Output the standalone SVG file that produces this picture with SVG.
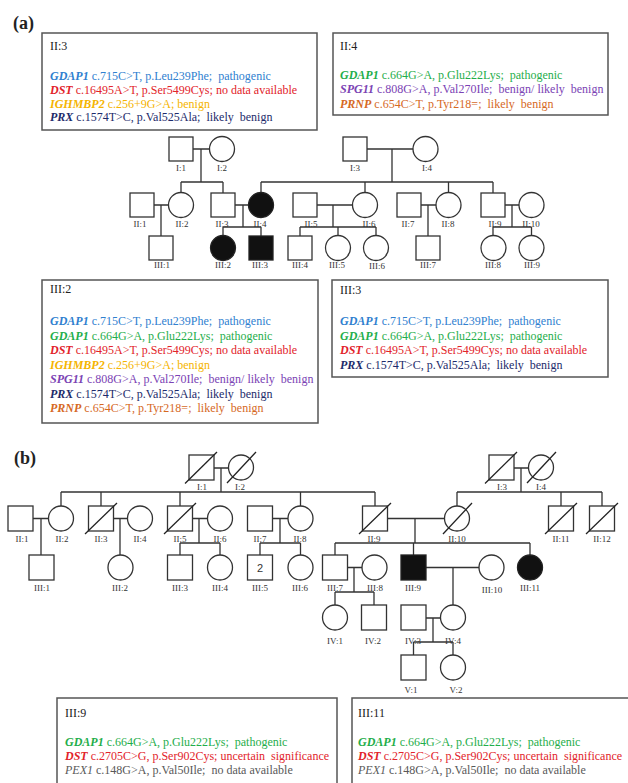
<svg xmlns="http://www.w3.org/2000/svg" width="628" height="783" viewBox="0 0 628 783">
<style>
.s{fill:#fff;stroke:#333;stroke-width:1.3}
.f{fill:#111;stroke:#222;stroke-width:1.3}
.c{fill:none;stroke:#333;stroke-width:1.3}
.sl{stroke:#222;stroke-width:1.3}
.lb{font-family:"Liberation Serif","Times New Roman",serif;font-size:9px;fill:#333;text-anchor:middle}
.bx{fill:#fff;stroke:#555;stroke-width:1.5}
.t{font-family:"Liberation Serif","Times New Roman",serif;font-size:12px;white-space:pre}
.h{font-family:"Liberation Serif","Times New Roman",serif;font-size:12px}
.g{font-weight:bold;font-style:italic}
.pl{font-family:"Liberation Serif","Times New Roman",serif;font-size:18px;font-weight:bold;fill:#222}
.bl{fill:#2f80cf}.gr{fill:#1fae4b}.rd{fill:#e2232a}.yl{fill:#f5b400}.nv{fill:#1d2b6b}.pu{fill:#7b43b4}.or{fill:#d6691f}.gy{fill:#595959}
</style>
<rect width="628" height="783" fill="#fff"/>
<text class="pl" x="13" y="29">(a)</text>
<text class="pl" x="14" y="464">(b)</text>

<!-- ===== (a) connectors ===== -->
<g id="connectors-a">
<path class="c" d="M193 149H209.5 M201 149V182 M181 182H223 M181 182V192.5 M223 182V193"/>
<path class="c" d="M367 149H413 M392 149V182 M261 182H493 M261 182V192.5 M365 182V192.5 M448.5 182V192.5 M493 182V193"/>
<path class="c" d="M154 205H168.5 M161 205V236"/>
<path class="c" d="M235 205H248.5 M243 205V227 M223 227H261 M223 227V235.5 M261 227V236"/>
<path class="c" d="M317 205H352.5 M333 205V227 M300 227H376 M300 227V236 M338 227V235.5 M376 227V235.5"/>
<path class="c" d="M421 205H436 M428 205V236"/>
<path class="c" d="M505 205H519 M512 205V227 M493 227H531.5 M493 227V235.5 M531.5 227V235.5"/>
</g>

<!-- ===== (a) nodes ===== -->
<g id="a-I1"><rect class="s" x="169" y="137" width="24" height="24"/><text class="lb" x="181" y="171">I:1</text></g>
<g id="a-I2"><circle class="s" cx="222" cy="149" r="12.5"/><text class="lb" x="222" y="171">I:2</text></g>
<g id="a-I3"><rect class="s" x="343" y="137" width="24" height="24"/><text class="lb" x="355" y="171">I:3</text></g>
<g id="a-I4"><circle class="s" cx="425.5" cy="149" r="12.5"/><text class="lb" x="427" y="171">I:4</text></g>

<g id="a-II1"><rect class="s" x="130" y="193" width="24" height="24"/><text class="lb" x="140" y="227">II:1</text></g>
<g id="a-II2"><circle class="s" cx="181" cy="205" r="12.5"/><text class="lb" x="182" y="227">II:2</text></g>
<g id="a-II3"><rect class="s" x="211" y="193" width="24" height="24"/><text class="lb" x="222" y="227">II:3</text></g>
<g id="a-II4"><circle class="f" cx="261" cy="205" r="12.5"/><text class="lb" x="260" y="227">II:4</text></g>
<g id="a-II5"><rect class="s" x="293" y="193" width="24" height="24"/><text class="lb" x="311" y="227">II:5</text></g>
<g id="a-II6"><circle class="s" cx="365" cy="205" r="12.5"/><text class="lb" x="369" y="227">II:6</text></g>
<g id="a-II7"><rect class="s" x="397" y="193" width="24" height="24"/><text class="lb" x="408" y="227">II:7</text></g>
<g id="a-II8"><circle class="s" cx="448.5" cy="205" r="12.5"/><text class="lb" x="448" y="227">II:8</text></g>
<g id="a-II9"><rect class="s" x="481" y="193" width="24" height="24"/><text class="lb" x="495" y="227">II:9</text></g>
<g id="a-II10"><circle class="s" cx="531.5" cy="205" r="12.5"/><text class="lb" x="531" y="227">II:10</text></g>

<g id="a-III1"><rect class="s" x="149" y="236" width="24" height="24"/><text class="lb" x="162" y="268">III:1</text></g>
<g id="a-III2"><circle class="f" cx="223" cy="248" r="12.5"/><text class="lb" x="223" y="268">III:2</text></g>
<g id="a-III3"><rect class="f" x="249" y="236" width="24" height="24"/><text class="lb" x="260" y="268">III:3</text></g>
<g id="a-III4"><rect class="s" x="288" y="236" width="24" height="24"/><text class="lb" x="300" y="268">III:4</text></g>
<g id="a-III5"><circle class="s" cx="338" cy="248" r="12.5"/><text class="lb" x="337" y="268">III:5</text></g>
<g id="a-III6"><circle class="s" cx="376" cy="248" r="12.5"/><text class="lb" x="377" y="269">III:6</text></g>
<g id="a-III7"><rect class="s" x="416" y="236" width="24" height="24"/><text class="lb" x="428" y="268">III:7</text></g>
<g id="a-III8"><circle class="s" cx="493.5" cy="248" r="12.5"/><text class="lb" x="493" y="268">III:8</text></g>
<g id="a-III9"><circle class="s" cx="531.5" cy="248" r="12.5"/><text class="lb" x="532" y="268">III:9</text></g>

<!-- ===== (a) boxes ===== -->
<g id="box-a-II3">
<rect class="bx" x="42" y="33" width="275" height="97"/>
<text class="h" x="50" y="50" fill="#222">II:3</text>
<text class="t bl" x="50" y="80" xml:space="preserve"><tspan class="g">GDAP1</tspan> c.715C&gt;T, p.Leu239Phe;  pathogenic</text>
<text class="t rd" x="50" y="94" xml:space="preserve"><tspan class="g">DST</tspan> c.16495A&gt;T, p.Ser5499Cys; no data available</text>
<text class="t yl" x="50" y="107.5" xml:space="preserve"><tspan class="g">IGHMBP2</tspan> c.256+9G&gt;A; benign</text>
<text class="t nv" x="50" y="121" xml:space="preserve"><tspan class="g">PRX</tspan> c.1574T&gt;C, p.Val525Ala;  likely  benign</text>
</g>
<g id="box-a-II4">
<rect class="bx" x="333" y="33" width="275" height="82"/>
<text class="h" x="340" y="50" fill="#222">II:4</text>
<text class="t gr" x="340" y="79" xml:space="preserve"><tspan class="g">GDAP1</tspan> c.664G&gt;A, p.Glu222Lys;  pathogenic</text>
<text class="t pu" x="340" y="93" xml:space="preserve"><tspan class="g">SPG11</tspan> c.808G&gt;A, p.Val270Ile;  benign/ likely  benign</text>
<text class="t or" x="340" y="108" xml:space="preserve"><tspan class="g">PRNP</tspan> c.654C&gt;T, p.Tyr218=;  likely  benign</text>
</g>
<g id="box-a-III2">
<rect class="bx" x="42" y="280" width="276" height="143"/>
<text class="h" x="50" y="293" fill="#222">III:2</text>
<text class="t bl" x="50" y="325" xml:space="preserve"><tspan class="g">GDAP1</tspan> c.715C&gt;T, p.Leu239Phe;  pathogenic</text>
<text class="t gr" x="50" y="339.5" xml:space="preserve"><tspan class="g">GDAP1</tspan> c.664G&gt;A, p.Glu222Lys;  pathogenic</text>
<text class="t rd" x="50" y="354" xml:space="preserve"><tspan class="g">DST</tspan> c.16495A&gt;T, p.Ser5499Cys; no data available</text>
<text class="t yl" x="50" y="368.5" xml:space="preserve"><tspan class="g">IGHMBP2</tspan> c.256+9G&gt;A; benign</text>
<text class="t pu" x="50" y="383" xml:space="preserve"><tspan class="g">SPG11</tspan> c.808G&gt;A, p.Val270Ile;  benign/ likely  benign</text>
<text class="t nv" x="50" y="397.5" xml:space="preserve"><tspan class="g">PRX</tspan> c.1574T&gt;C, p.Val525Ala;  likely  benign</text>
<text class="t or" x="50" y="412" xml:space="preserve"><tspan class="g">PRNP</tspan> c.654C&gt;T, p.Tyr218=;  likely  benign</text>
</g>
<g id="box-a-III3">
<rect class="bx" x="332" y="280" width="276" height="97"/>
<text class="h" x="340" y="294" fill="#222">III:3</text>
<text class="t bl" x="340" y="325" xml:space="preserve"><tspan class="g">GDAP1</tspan> c.715C&gt;T, p.Leu239Phe;  pathogenic</text>
<text class="t gr" x="340" y="339.5" xml:space="preserve"><tspan class="g">GDAP1</tspan> c.664G&gt;A, p.Glu222Lys;  pathogenic</text>
<text class="t rd" x="340" y="354" xml:space="preserve"><tspan class="g">DST</tspan> c.16495A&gt;T, p.Ser5499Cys; no data available</text>
<text class="t nv" x="340" y="368.5" xml:space="preserve"><tspan class="g">PRX</tspan> c.1574T&gt;C, p.Val525Ala;  likely  benign</text>
</g>

<!-- ===== (b) connectors ===== -->
<g id="connectors-b">
<path class="c" d="M213.5 468H228.5 M221 468V492 M61 492H375 M61 492V506 M101 492V506 M180 492V506 M300.5 492V506 M375 492V506"/>
<path class="c" d="M514 468H528.5 M521 468V492 M457 492H602 M457 492V506 M561 492V506 M602 492V506"/>
<path class="c" d="M33 518.5H48.5 M41 518.5V555"/>
<path class="c" d="M113.5 518.5H127.5 M120 518.5V555"/>
<path class="c" d="M192.5 518.5H207.5 M199 518.5V543 M180 543H220 M180 543V555 M220 543V555"/>
<path class="c" d="M272.5 518.5H288 M280 518.5V543 M260 543H300.5 M260 543V555 M300.5 543V555"/>
<path class="c" d="M387.5 518.5H444.5 M415 518.5V543 M335 543H530 M335 543V555 M413.5 543V555 M530 543V555"/>
<path class="c" d="M347.5 567.5H362 M354 567.5V592 M335 592H374 M335 592V605 M374 592V605"/>
<path class="c" d="M426 567.5H479 M453 567.5V605"/>
<path class="c" d="M426 618H440.5 M433 618V642 M413.5 642H453 M413.5 642V655 M453 642V655"/>
</g>

<!-- ===== (b) nodes ===== -->
<g id="b-I1"><rect class="s" x="189" y="455" width="25" height="25"/><line class="sl" x1="185" y1="483.5" x2="217" y2="452"/><text class="lb" x="202" y="490">I:1</text></g>
<g id="b-I2"><circle class="s" cx="241" cy="467.5" r="12.5"/><line class="sl" x1="227" y1="483" x2="256" y2="452"/><text class="lb" x="240" y="490">I:2</text></g>
<g id="b-I3"><rect class="s" x="489" y="455" width="25" height="25"/><line class="sl" x1="485" y1="483.5" x2="517" y2="452"/><text class="lb" x="502" y="490">I:3</text></g>
<g id="b-I4"><circle class="s" cx="541" cy="467.5" r="12.5"/><line class="sl" x1="527" y1="483" x2="556" y2="452"/><text class="lb" x="541" y="490">I:4</text></g>

<g id="b-II1"><rect class="s" x="8" y="506" width="25" height="25"/><text class="lb" x="22" y="542">II:1</text></g>
<g id="b-II2"><circle class="s" cx="61" cy="518.5" r="12.5"/><text class="lb" x="62" y="542">II:2</text></g>
<g id="b-II3"><rect class="s" x="88.5" y="506" width="25" height="25"/><line class="sl" x1="85" y1="534" x2="117" y2="503"/><text class="lb" x="101" y="542">II:3</text></g>
<g id="b-II4"><circle class="s" cx="140" cy="518.5" r="12.5"/><text class="lb" x="140" y="542">II:4</text></g>
<g id="b-II5"><rect class="s" x="167.5" y="506" width="25" height="25"/><line class="sl" x1="164" y1="534" x2="196" y2="503"/><text class="lb" x="180" y="542">II:5</text></g>
<g id="b-II6"><circle class="s" cx="220" cy="518.5" r="12.5"/><text class="lb" x="220" y="542">II:6</text></g>
<g id="b-II7"><rect class="s" x="247.5" y="506" width="25" height="25"/><text class="lb" x="260" y="542">II:7</text></g>
<g id="b-II8"><circle class="s" cx="300.5" cy="518.5" r="12.5"/><text class="lb" x="300" y="542">II:8</text></g>
<g id="b-II9"><rect class="s" x="362.5" y="506" width="25" height="25"/><line class="sl" x1="359" y1="534" x2="391" y2="503"/><text class="lb" x="374" y="542">II:9</text></g>
<g id="b-II10"><circle class="s" cx="457" cy="518.5" r="12.5"/><line class="sl" x1="443" y1="534" x2="472" y2="503"/><text class="lb" x="457" y="542">II:10</text></g>
<g id="b-II11"><rect class="s" x="548.5" y="506" width="25" height="25"/><line class="sl" x1="545" y1="534" x2="577" y2="503"/><text class="lb" x="561" y="542">II:11</text></g>
<g id="b-II12"><rect class="s" x="589.5" y="506" width="25" height="25"/><line class="sl" x1="586" y1="534" x2="618" y2="503"/><text class="lb" x="602" y="542">II:12</text></g>

<g id="b-III1"><rect class="s" x="29" y="555" width="25" height="25"/><text class="lb" x="42" y="591">III:1</text></g>
<g id="b-III2"><circle class="s" cx="120.5" cy="567.5" r="12.5"/><text class="lb" x="120" y="591">III:2</text></g>
<g id="b-III3"><rect class="s" x="167.5" y="555" width="25" height="25"/><text class="lb" x="180" y="591">III:3</text></g>
<g id="b-III4"><circle class="s" cx="220" cy="567.5" r="12.5"/><text class="lb" x="220" y="591">III:4</text></g>
<g id="b-III5"><rect class="s" x="247.5" y="555" width="25" height="25"/><text x="260" y="572" font-family="Liberation Sans, Arial, sans-serif" font-size="11" fill="#333" text-anchor="middle">2</text><text class="lb" x="260" y="591">III:5</text></g>
<g id="b-III6"><circle class="s" cx="300.5" cy="567.5" r="12.5"/><text class="lb" x="300" y="591">III:6</text></g>
<g id="b-III7"><rect class="s" x="322.5" y="555" width="25" height="25"/><text class="lb" x="335" y="591">III:7</text></g>
<g id="b-III8"><circle class="s" cx="374.5" cy="567.5" r="12.5"/><text class="lb" x="375" y="591">III:8</text></g>
<g id="b-III9"><rect class="f" x="401" y="555" width="25" height="25"/><text class="lb" x="413" y="591">III:9</text></g>
<g id="b-III10"><circle class="s" cx="491.5" cy="567.5" r="12.5"/><text class="lb" x="492" y="593">III:10</text></g>
<g id="b-III11"><circle class="f" cx="530" cy="567.5" r="12.5"/><text class="lb" x="530" y="591">III:11</text></g>

<g id="b-IV1"><circle class="s" cx="335" cy="617.5" r="12.5"/><text class="lb" x="335" y="644">IV:1</text></g>
<g id="b-IV2"><rect class="s" x="361.5" y="605" width="25" height="25"/><text class="lb" x="373" y="644">IV:2</text></g>
<g id="b-IV3"><rect class="s" x="401" y="605" width="25" height="25"/><text class="lb" x="413" y="644">IV:3</text></g>
<g id="b-IV4"><circle class="s" cx="453" cy="617.5" r="12.5"/><text class="lb" x="453" y="644">IV:4</text></g>
<g id="b-V1"><rect class="s" x="401" y="655" width="25" height="25"/><text class="lb" x="411" y="693">V:1</text></g>
<g id="b-V2"><circle class="s" cx="453" cy="667.5" r="12.5"/><text class="lb" x="456" y="693">V:2</text></g>

<!-- ===== (b) boxes ===== -->
<g id="box-b-III9">
<rect class="bx" x="57" y="698" width="280" height="100"/>
<text class="h" x="65" y="717" fill="#222">III:9</text>
<text class="t gr" x="65" y="746" xml:space="preserve"><tspan class="g">GDAP1</tspan> c.664G&gt;A, p.Glu222Lys;  pathogenic</text>
<text class="t rd" x="65" y="760" xml:space="preserve"><tspan class="g">DST</tspan> c.2705C&gt;G, p.Ser902Cys; uncertain  significance</text>
<text class="t gy" x="65" y="774" xml:space="preserve"><tspan font-style="italic">PEX1</tspan> c.148G&gt;A, p.Val50Ile;  no data available</text>
</g>
<g id="box-b-III11">
<rect class="bx" x="352" y="698" width="300" height="100"/>
<text class="h" x="358" y="717" fill="#222">III:11</text>
<text class="t gr" x="358" y="746" xml:space="preserve"><tspan class="g">GDAP1</tspan> c.664G&gt;A, p.Glu222Lys;  pathogenic</text>
<text class="t rd" x="358" y="760" xml:space="preserve"><tspan class="g">DST</tspan> c.2705C&gt;G, p.Ser902Cys; uncertain  significance</text>
<text class="t gy" x="358" y="774" xml:space="preserve"><tspan font-style="italic">PEX1</tspan> c.148G&gt;A, p.Val50Ile;  no data available</text>
</g>
</svg>
